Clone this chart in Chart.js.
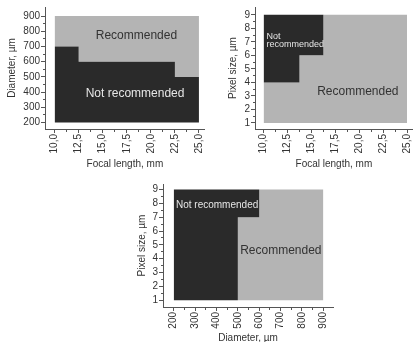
<!DOCTYPE html>
<html><head><meta charset="utf-8">
<script src="https://cdn.jsdelivr.net/npm/chart.js@4.4.0/dist/chart.umd.min.js"></script>
<style>
html,body{margin:0;padding:0;background:#fff;width:420px;height:342px;overflow:hidden;position:relative}
canvas{position:absolute}
</style></head><body>
<canvas id="c1" width="212" height="172" style="left:0;top:0"></canvas>
<canvas id="c2" width="210" height="172" style="left:210px;top:0"></canvas>
<canvas id="c3" width="210" height="176" style="left:130px;top:172px"></canvas>
<script>
// ---- Panel 1: Diameter vs focal length (boundary of "Not recommended") ----
const focalLength1 = [10, 12.5, 12.5, 22.5, 22.5, 25];
const diameterLimit1 = [700, 700, 600, 600, 500, 500];
const focalTicks = [10, 12.5, 15, 17.5, 20, 22.5, 25];
const focalTickLabels = ['10,0', '12,5', '15,0', '17,5', '20,0', '22,5', '25,0'];
const focalMinor = [11.25, 13.75, 16.25, 18.75, 21.25, 23.75];
const diameterTicks1 = [200, 300, 400, 500, 600, 700, 800, 900];
const diameterTickLabels1 = ['200', '300', '400', '500', '600', '700', '800', '900'];
const diameterMinor1 = [250, 350, 450, 550, 650, 750, 850];

// ---- Panel 2: Pixel size vs focal length (lower edge of "Not recommended") ----
const focalLength2 = [10, 13.75, 13.75, 16.25, 16.25, 25];
const pixelLimit2 = [4, 4, 6, 6, 9, 9];
const pixelTicks = [1, 2, 3, 4, 5, 6, 7, 8, 9];
const pixelTickLabels = ['1', '2', '3', '4', '5', '6', '7', '8', '9'];
const pixelMinor = [1.5, 2.5, 3.5, 4.5, 5.5, 6.5, 7.5, 8.5];

// ---- Panel 3: Pixel size vs diameter (lower edge of "Not recommended") ----
const diameter3 = [200, 500, 500, 600, 600, 900];
const pixelLimit3 = [1, 1, 7, 7, 9, 9];
const diameterTicks3 = [200, 300, 400, 500, 600, 700, 800, 900];
const diameterTickLabels3 = ['200', '300', '400', '500', '600', '700', '800', '900'];
const diameterMinor3 = [250, 350, 450, 550, 650, 750, 850];

const DARK = '#2a2a2a', LIGHT = '#b4b4b4', AXIS = '#555', TXT = '#333';
const FONT = '"Liberation Sans", Arial, sans-serif';

function makeAxis(o) {
  const minorSet = new Set(o.minor);
  const labelMap = new Map(o.major.map((v, i) => [v, o.labels[i]]));
  const isMinor = ctx => !!(ctx.tick && minorSet.has(ctx.tick.value));
  return {
    type: 'linear', position: o.pos, min: o.min, max: o.max,
    afterBuildTicks: s => { s.ticks = o.major.concat(o.minor).sort((a, b) => a - b).map(v => ({value: v})); },
    afterFit: s => { if (o.pos === 'left') s.width = o.size; else s.height = o.size; },
    border: {display: true, color: AXIS, width: 1},
    grid: {
      drawOnChartArea: false, drawTicks: true, tickLength: 4, tickColor: AXIS, tickWidth: 1,
      tickBorderDash: ctx => isMinor(ctx) ? [2, 2] : [],
      tickBorderDashOffset: ctx => (o.pos === 'left' && isMinor(ctx)) ? 2 : 0
    },
    ticks: {
      autoSkip: false, color: TXT, font: {family: FONT, size: 10}, padding: 1,
      minRotation: o.rotate ? 90 : 0, maxRotation: o.rotate ? 90 : 0,
      callback: v => labelMap.has(v) ? labelMap.get(v) : ''
    },
    title: {
      display: true, text: o.title, color: TXT, font: {family: FONT, size: 10},
      padding: o.pos === 'left' ? {top: o.titlePad, bottom: 0} : {top: 0, bottom: o.titlePad}
    }
  };
}

const regionLabels = {
  id: 'regionLabels',
  afterDatasetsDraw(chart, args, opts) {
    const {ctx, scales: {x, y}} = chart;
    ctx.save();
    for (const it of opts.items) {
      ctx.font = it.size + 'px ' + FONT;
      ctx.fillStyle = it.color;
      ctx.textAlign = 'left';
      ctx.textBaseline = 'middle';
      ctx.fillText(it.text, x.getPixelForValue(it.x), y.getPixelForValue(it.y));
    }
    ctx.restore();
  }
};

function pts(xs, ys) { return xs.map((v, i) => ({x: v, y: ys[i]})); }

function makeChart(id, cfg) {
  return new Chart(document.getElementById(id), {
    type: 'line',
    data: {
      datasets: [
        {data: pts(cfg.xs, cfg.ys), fill: cfg.darkFill, backgroundColor: DARK, borderColor: 'rgba(0,0,0,0)', borderWidth: 0, pointRadius: 0, tension: 0},
        {data: pts(cfg.xs, cfg.ys), fill: cfg.lightFill, backgroundColor: LIGHT, borderColor: 'rgba(0,0,0,0)', borderWidth: 0, pointRadius: 0, tension: 0}
      ]
    },
    options: {
      responsive: false, animation: false, devicePixelRatio: 1,
      layout: {autoPadding: false, padding: cfg.padding},
      plugins: {legend: {display: false}, tooltip: {enabled: false}, regionLabels: {items: cfg.labels}},
      scales: {x: cfg.x, y: cfg.y}
    },
    plugins: [regionLabels]
  });
}

makeChart('c1', {
  xs: focalLength1, ys: diameterLimit1,
  darkFill: {value: 200}, lightFill: {value: 900},
  padding: {top: 4, right: 1, left: 0, bottom: 0},
  x: makeAxis({pos: 'bottom', min: 9.0, max: 25.6, major: focalTicks, labels: focalTickLabels, minor: focalMinor, size: 43, title: 'Focal length, mm', titlePad: 2, rotate: true}),
  y: makeAxis({pos: 'left', min: 157, max: 960, major: diameterTicks1, labels: diameterTickLabels1, minor: diameterMinor1, size: 45, title: 'Diameter, µm', titlePad: 6}),
  labels: [
    {text: 'Recommended', x: 14.27, y: 773, size: 12, color: TXT},
    {text: 'Not recommended', x: 13.23, y: 388, size: 12, color: '#e6e6e6'}
  ]
});

makeChart('c2', {
  xs: focalLength2, ys: pixelLimit2,
  darkFill: {value: 9}, lightFill: {value: 1},
  padding: {top: 4, right: 0, left: 0, bottom: 0},
  x: makeAxis({pos: 'bottom', min: 9.1, max: 25.6, major: focalTicks, labels: focalTickLabels, minor: focalMinor, size: 43, title: 'Focal length, mm', titlePad: 2, rotate: true}),
  y: makeAxis({pos: 'left', min: 0.55, max: 9.58, major: pixelTicks, labels: pixelTickLabels, minor: pixelMinor, size: 45, title: 'Pixel size, µm', titlePad: 17}),
  labels: [
    {text: 'Not', x: 10.3, y: 7.41, size: 9, color: '#e6e6e6'},
    {text: 'recommended', x: 10.3, y: 6.77, size: 9, color: '#e6e6e6'},
    {text: 'Recommended', x: 15.6, y: 3.31, size: 12, color: TXT}
  ]
});

makeChart('c3', {
  xs: diameter3, ys: pixelLimit3,
  darkFill: {value: 9}, lightFill: {value: 1},
  padding: {top: 12, right: 7, left: 0, bottom: 0},
  x: makeAxis({pos: 'bottom', min: 150, max: 945, major: diameterTicks3, labels: diameterTickLabels3, minor: diameterMinor3, size: 41, title: 'Diameter, µm', titlePad: 4, rotate: true}),
  y: makeAxis({pos: 'left', min: 0.51, max: 9.4, major: pixelTicks, labels: pixelTickLabels, minor: pixelMinor, size: 33, title: 'Pixel size, µm', titlePad: 6}),
  labels: [
    {text: 'Not recommended', x: 210.8, y: 7.9, size: 10, color: '#e6e6e6'},
    {text: 'Recommended', x: 510.8, y: 4.57, size: 12, color: TXT}
  ]
});
</script>
</body></html>
